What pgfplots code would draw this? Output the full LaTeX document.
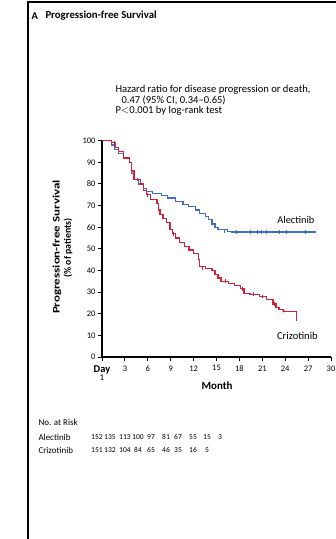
\documentclass[border=0pt]{standalone}
\usepackage{pgfplots}
\pgfplotsset{compat=1.18}
\usepackage{fontspec}
\setmainfont{Carlito}
\definecolor{alecblue}{RGB}{66,108,198}
\definecolor{crizred}{RGB}{214,34,56}
\newcommand{\fs}[1]{\fontsize{#1}{#1}\selectfont}
\begin{document}
\begin{tikzpicture}
\path[use as bounding box] (0bp,0bp) rectangle (336bp,-539bp);
% panel frame
\draw[line width=2bp] (27bp,-2bp) -- (336bp,-2bp);
\draw[line width=2bp] (28bp,-1bp) -- (28bp,-539bp);
% panel title
\node[anchor=west,font=\bfseries\fs{10.5}] at (28bp,-16bp) {A};
\node[anchor=west,font=\bfseries\fs{10.8}] at (42bp,-16bp) {Progression-free Survival};
% hazard ratio annotation
\node[anchor=west,font=\fs{10.6}] at (112bp,-90bp) {Hazard ratio for disease progression or death,};
\node[anchor=west,font=\fs{10.6}] at (118bp,-100.5bp) {0.47 (95\% CI, 0.34--0.65)};
\node[anchor=west,font=\fs{10.6}] at (112bp,-111bp) {P$<$0.001 by log-rank test};
\begin{axis}[
  scale only axis, width=229bp, height=216.3bp,
  anchor=south west, at={(102bp,-357bp)},
  xmin=0, xmax=30, ymin=0, ymax=100,
  axis x line*=bottom, axis y line*=left,
  axis line style={line width=1.3bp, black},
  xtick={0,3,...,30},
  xticklabels={{\bfseries\fs{10.5}Day},3,6,9,12,15,18,21,24,27,30},
  ytick={0,10,...,100},
  tick align=outside,
  major tick length=4bp,
  tick style={line width=1bp, black},
  xticklabel style={font=\fs{8.5}, anchor=north, yshift=-1bp},
  yticklabel style={font=\fs{8.5}, xshift=1bp},
  /pgf/number format/assume math mode=true,
  clip=false,
]
% Alectinib
\addplot[const plot, color=alecblue, line width=1.2bp] coordinates {
 (0,100) (1.2,98) (1.6,96) (2.2,94) (2.8,92) (3.6,90) (3.9,85) (4.2,82)
 (4.8,80) (5.4,78) (5.8,76.5) (6.6,75.5) (7.8,74.5) (8.6,73.5) (9.6,72)
 (10.6,70.5) (11.3,69.5) (12.2,68) (12.8,66.5) (13.6,65) (14.0,63.5)
 (14.4,61.5) (14.8,60) (15.2,58.8) (16.4,58.2) (17.0,57.8) (28.1,57.8)
};
% Crizotinib
\addplot[const plot, color=crizred, line width=1.2bp] coordinates {
 (0,100) (1.2,99) (1.8,97) (2.2,95) (2.8,92) (3.6,90) (3.9,86) (4.2,82)
 (5.0,80) (5.4,77) (5.8,75) (6.4,73) (7.2,71) (7.4,68) (7.6,66) (8.0,64)
 (8.5,62) (8.9,59) (9.2,57) (9.6,55) (10.2,53) (10.8,51) (11.4,49.5)
 (12.0,48) (12.6,45) (12.8,42) (13.6,41) (14.4,40) (14.8,38) (15.2,36.5)
 (15.6,35) (16.6,34) (17.4,33) (18.1,31.5) (18.6,29.5) (19.4,29) (20.6,28)
 (21.6,26.5) (22.4,24.5) (22.8,23) (23.2,22) (23.8,21.2) (25.5,17.5)
};
% censored observations
\addplot[only marks, mark=|, mark size=1.8bp, color=alecblue, line width=0.7bp] coordinates {
 (16.0,58.2) (17.6,57.8) (19.4,57.8) (20.4,57.8) (20.9,57.8) (21.5,57.8)
 (23.2,57.8) (24.2,57.8) (26.6,57.8)
};
\addplot[only marks, mark=|, mark size=1.8bp, color=crizred, line width=0.7bp] coordinates {
 (1.6,99) (4.6,82) (6.0,75) (9.4,57) (13.2,41) (16.2,35) (18.4,31.5)
 (19.8,29) (21.0,28) (22.6,24.5) (25.5,17.5)
};
\addplot[only marks, mark=*, mark size=1.1bp, color=crizred] coordinates {(23.8,21.2)};
% curve labels
\node[font=\fs{10.4}] at (axis cs:25.4,63.2) {Alectinib};
\node[font=\fs{10.6}] at (axis cs:25.6,10) {Crizotinib};
\end{axis}
% first day of the month scale
\node[font=\fs{9}] at (102bp,-378bp) {1};
% axis titles
\node[font=\bfseries\fs{11}] at (217bp,-386bp) {Month};
\node[rotate=90, font=\bfseries\fs{10}] at (57bp,-247bp) {\scalebox{1.3}[1]{Progression-free Survival}};
\node[rotate=90, font=\bfseries\fs{9.8}] at (68bp,-248bp) {(\% of patients)};
% number at risk
\node[anchor=west,font=\fs{9}] at (35bp,-422bp) {No. at Risk};
\node[anchor=west,font=\fs{9}] at (35bp,-437bp) {Alectinib};
\node[anchor=west,font=\fs{9}] at (35bp,-450bp) {Crizotinib};
\foreach \x/\n in {97/152,110/135,125/113,138/100,151/97,166/81,178/67,193/55,207/15,220/3}
  \node[font=\fs{7.6}] at (\x bp,-437bp) {\n};
\foreach \x/\n in {97/151,110/132,125/104,138/84,151/65,166/46,178/35,193/16,207/5}
  \node[font=\fs{7.6}] at (\x bp,-450bp) {\n};
\end{tikzpicture}
\end{document}
